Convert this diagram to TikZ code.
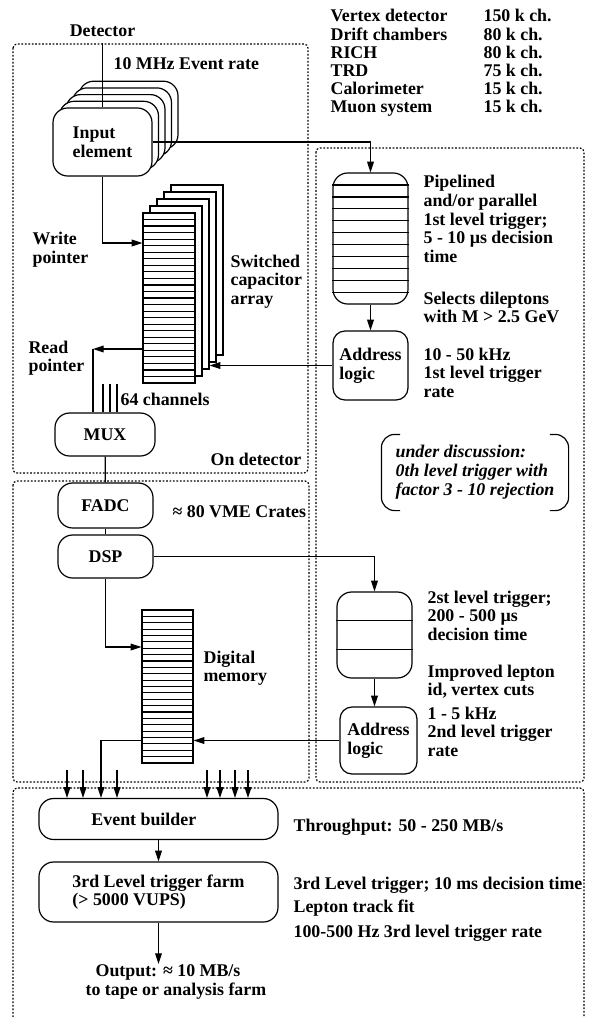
\documentclass[tikz,border=0pt]{standalone}
\usepackage{fontspec}
\setmainfont{Liberation Serif}
\usetikzlibrary{arrows.meta,positioning,calc}

\begin{document}
\begin{tikzpicture}[
    x=0.75pt,y=-0.75pt,
    line width=0.9pt,
    >={Triangle[length=8pt,width=5pt]},
    every node/.style={font=\fontsize{13.4pt}{14pt}\selectfont\bfseries,inner sep=0pt},
    frame/.style={dash pattern=on 1.3pt off 1.3pt,line width=0.9pt,rounded corners=3pt},
    box/.style={draw,fill=white,rounded corners=11pt,align=center},
    inbox/.style={box,minimum width=74.25pt,minimum height=51pt},
    memcol/.style={draw,fill=white,minimum width=39pt,minimum height=127.5pt},
    txt/.style={anchor=base west,align=left},
    para/.style={anchor=north west,align=left}
]
\useasboundingbox (0,0) rectangle (597,1017);

% dotted frames
\draw[frame] (13,44) rectangle (308,473);
\draw[frame] (13,481) rectangle (309,782);
\draw[frame] (316,148) rectangle (584,782);
\draw[frame] (13,1017) -- (13,788) -- (584,788) -- (584,1017);

% channel table
\node[para,font=\fontsize{13.4pt}{13.6pt}\selectfont\bfseries] (dets) at (330,9) {Vertex detector\\Drift chambers\\RICH\\TRD\\Calorimeter\\Muon system};
\node[para,font=\fontsize{13.4pt}{13.6pt}\selectfont\bfseries] (chans) at (483,9) {150 k ch.\\80 k ch.\\80 k ch.\\75 k ch.\\15 k ch.\\15 k ch.};

% on detector
\node[inner sep=4pt] (det) at (102.5,31) {Detector};
\node[txt] (rate) at (113,69) {10 MHz Event rate};
\foreach \i in {4,3,2,1}
  \node[inbox] (in\i) at ({102.5+6.5*\i},{142-6.7*\i}) {};
\node[inbox,align=left] (input) at (102.5,142) {Input\\element};
\draw (det) -- (input);

\foreach \i in {4,3,2,1}
  \node[memcol] (sca\i) at ({169+7*\i},{298-7*\i}) {};
\node[memcol] (sca) at (169,298) {};
\foreach \k [evaluate=\k as \yy using 213+6.54*\k] in {1,...,25}
  \draw (sca.west |- 0,\yy) -- (sca.east |- 0,\yy);
\node[para] (scalbl) at (230,254) {Switched\\capacitor\\array};

\node[para] (wp) at (32,232) {Write\\pointer};
\draw[->] (input) |- (sca.west |- 0,243);

\node[box,minimum width=75pt,minimum height=32.25pt] (mux) at (105,434.5) {MUX};
\node[para] (rp) at (28,340) {Read\\pointer};
\coordinate (rpc) at (93,349);
\draw[->] (sca.west |- rpc) -- (rpc);
\draw (rpc) -- (rpc |- mux.north);
\foreach \x in {103,110,117}
  \draw (\x,0 |- sca.south) -- (\x,0 |- mux.north);
\node[txt] (chan) at (120,405) {64 channels};
\node[txt] (ondet) at (210,465) {On detector};

% VME crates
\node[box,minimum width=71.25pt,minimum height=33.75pt] (fadc) at (105.5,505.5) {FADC};
\node[box,minimum width=71.25pt,minimum height=32.25pt] (dsp) at (105.5,556.5) {DSP};
\draw (mux) -- (fadc);
\draw (fadc) -- (dsp);
\node[txt] (vme) at (172,517) {≈ 80 VME Crates};

\node[draw,fill=white,minimum width=38.25pt,minimum height=114.75pt] (mem) at (167.5,686.5) {};
\foreach \k [evaluate=\k as \yy using 610+6.375*\k] in {1,...,23}
  \draw (mem.west |- 0,\yy) -- (mem.east |- 0,\yy);
\node[para] (memlbl) at (203,650) {Digital\\memory};
\draw[->] (dsp) |- (mem.west |- 0,647);

% 1st level trigger
\node[box,minimum width=56.25pt,minimum height=98.25pt] (pipe) at (370.5,238.5) {};
\foreach \k [evaluate=\k as \yy using 185+11.9*\k] in {0,...,9}
  \draw (pipe.west |- 0,\yy) -- (pipe.east |- 0,\yy);
\node[box,align=left,rounded corners=9pt,minimum width=56.25pt,minimum height=51.75pt] (addr1) at (370.5,365.5) {Address\\logic};
\draw[->] (input.east) -| (pipe);
\draw[->] (pipe) -- (addr1);
\draw[->] (addr1) -- (sca2.east |- addr1.west);
\node[para] (pipetxt) at (423,175) {Pipelined\\and/or parallel\\1st level trigger;\\5 - 10 µs decision\\time};
\node[para] (seltxt) at (423,291) {Selects dileptons\\with M > 2.5 GeV};
\node[para] (ratetxt) at (423,347) {10 - 50 kHz\\1st level trigger\\rate};

\node[align=left,font=\fontsize{13.4pt}{14.2pt}\selectfont\bfseries\itshape,minimum width=139.5pt,minimum height=56.25pt] (disc) at (475,472.5)
  {under discussion:\\0th level trigger with\\factor 3 - 10 rejection};
\draw[rounded corners=10pt] ([xshift=14pt]disc.north west) -- (disc.north west) -- (disc.south west) -- ([xshift=14pt]disc.south west);
\draw[rounded corners=10pt] ([xshift=-14pt]disc.north east) -- (disc.north east) -- (disc.south east) -- ([xshift=-14pt]disc.south east);

% 2nd level trigger
\node[box,minimum width=56.25pt,minimum height=64.5pt] (trig2) at (374.5,635) {};
\draw ($(trig2.north west)!1/3!(trig2.south west)$) -- ($(trig2.north east)!1/3!(trig2.south east)$);
\draw ($(trig2.north west)!2/3!(trig2.south west)$) -- ($(trig2.north east)!2/3!(trig2.south east)$);
\node[box,align=left,rounded corners=9pt,minimum width=57.75pt,minimum height=50.25pt] (addr2) at (378.5,740.5) {Address\\logic};
\draw[->] (dsp) -| (trig2);
\draw[->] (trig2) -- (trig2 |- addr2.north);
\draw[->] (addr2) -- (mem.east |- addr2.west);
\node[para] (t2txt) at (427,590) {2st level trigger;\\200 - 500 µs\\decision time};
\node[para] (leptxt) at (427,664) {Improved lepton\\id, vertex cuts};
\node[para] (rate2txt) at (427,706) {1 - 5 kHz\\2nd level trigger\\rate};

% event building and 3rd level
\node[box,minimum width=179.25pt,minimum height=30.75pt] (evb) at (158.5,819) {Event builder\hspace*{22pt}};
\coordinate (bus) at (0,770);
\draw[->] (mem.west |- addr2.west) -| (evb.north -| 101,0);
\foreach \x in {67,83,117,207,220,235,248}
  \draw[->] (bus -| \x,0) -- (evb.north -| \x,0);
\node[box,align=left,minimum width=179.25pt,minimum height=45pt] (farm) at (158.5,892) {3rd Level trigger farm\\(> 5000 VUPS)};
\draw[->] (evb) -- (farm);
\node[para] (out) at (85,964) {\hspace*{7.5pt}Output: ≈ 10 MB/s\\to tape or analysis farm};
\draw[->] (farm) -- (farm |- out.north);
\node[txt] (thr) at (293,831) {Throughput: 50 - 250 MB/s};
\node[txt] (l3a) at (293,889) {3rd Level trigger; 10 ms decision time};
\node[txt] (l3b) at (293,912) {Lepton track fit};
\node[txt] (l3c) at (293,937) {100-500 Hz 3rd level trigger rate};
\end{tikzpicture}
\end{document}
